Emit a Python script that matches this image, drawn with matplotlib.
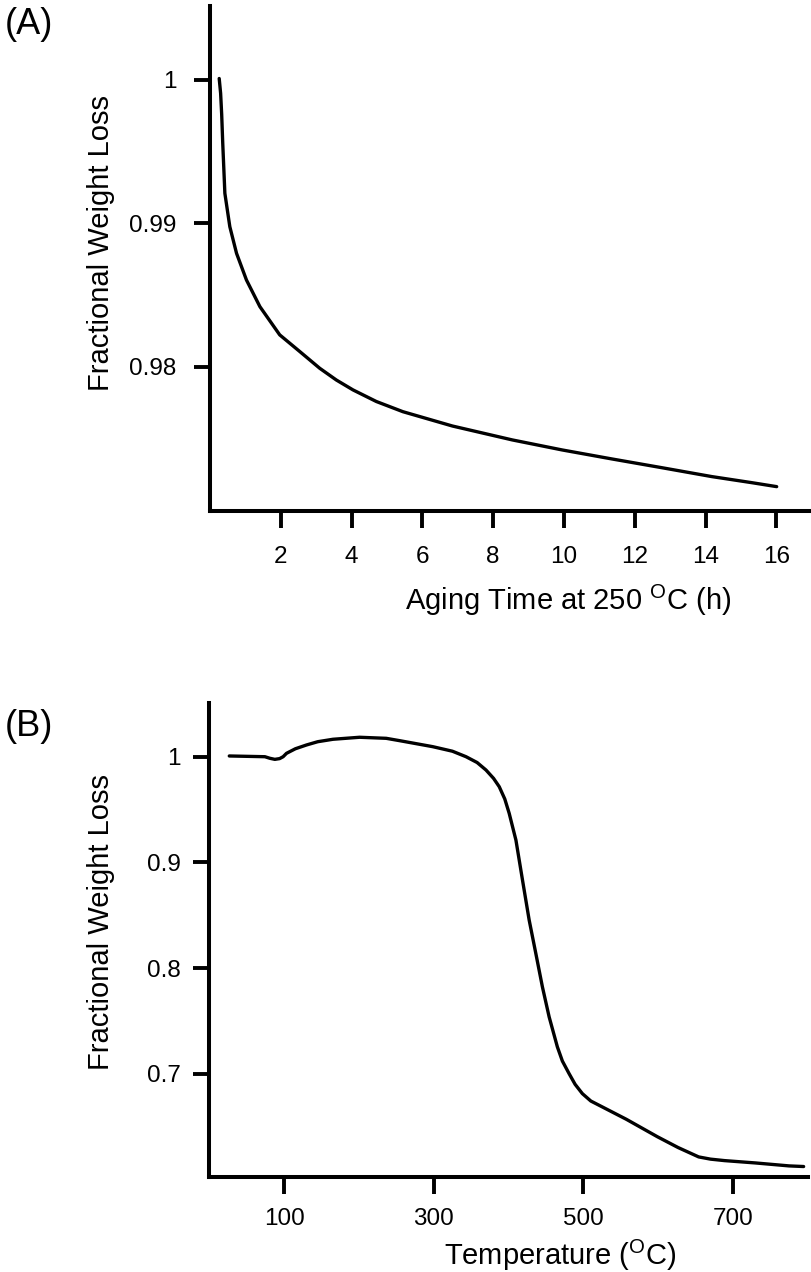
import matplotlib
matplotlib.use('Agg')
import matplotlib.pyplot as plt

FONT = 'Liberation Sans'
TICK_FONT_SIZE = 17.5
LABEL_FONT_SIZE = 21
PANEL_FONT_SIZE = 26
LINE_WIDTH = 2.4
SPINE_WIDTH = 2.9

plt.rcParams['font.family'] = [FONT, 'DejaVu Sans']
plt.rcParams['mathtext.fontset'] = 'custom'
plt.rcParams['mathtext.rm'] = FONT
plt.rcParams['xtick.labelsize'] = TICK_FONT_SIZE
plt.rcParams['ytick.labelsize'] = TICK_FONT_SIZE

# (A) isothermal aging at 250 C
aging_time = [0.26, 0.30, 0.33, 0.36, 0.42, 0.56, 0.75, 1.03, 1.41, 1.97,
              2.54, 3.10, 3.57, 4.04, 4.70, 5.45, 6.85, 8.54, 9.95, 11.36,
              12.77, 14.18, 15.30, 16.01]
aging_weight = [1.0001, 0.99907, 0.99760, 0.99558, 0.99209, 0.98976, 0.98790,
                0.98604, 0.98418, 0.98221, 0.98104, 0.97988, 0.97906,
                0.97837, 0.97756, 0.97685, 0.97585, 0.97488, 0.97418,
                0.97355, 0.97294, 0.97232, 0.97190, 0.97162]
a_xticks = [2, 4, 6, 8, 10, 12, 14, 16]
a_yticks = [0.98, 0.99, 1.0]
a_yticklabels = ['0.98', '0.99', '1']

# (B) temperature ramp
temperature = [26.7, 74.3, 81, 87.6, 94, 98.7, 103.2, 115, 129.9, 145, 165.3,
               200.9, 236.5, 254.3, 298.7, 325, 343.2, 358, 369.9, 380,
               387.6, 395, 400.9, 409.9, 418.7, 427.6, 436.5, 445.3, 454.3,
               465.3, 472, 480.9, 489, 498.7, 510, 521, 557.5, 599, 626.6,
               654.2, 670, 688.8, 730, 775, 794.5]
temp_weight = [1.0007, 1.0, 0.9985, 0.9975, 0.9982, 1.0, 1.0032, 1.0075,
               1.0111, 1.0142, 1.0165, 1.0184, 1.0174, 1.0152, 1.0095, 1.0052,
               1.0, 0.9945, 0.9874, 0.9795, 0.9716, 0.9600, 0.9464, 0.9211,
               0.8832, 0.8454, 0.8138, 0.7822, 0.7538, 0.7254, 0.7120, 0.7002,
               0.6900, 0.6812, 0.6742, 0.6702, 0.6569, 0.6404, 0.6302, 0.6213,
               0.6192, 0.6178, 0.6156, 0.6128, 0.6122]
b_xticks = [100, 300, 500, 700]
b_yticks = [0.7, 0.8, 0.9, 1.0]
b_yticklabels = ['0.7', '0.8', '0.9', '1']


def style_axes(ax, xpad, ypad):
  for side in ['top', 'right']:
    ax.spines[side].set_visible(False)
  for side in ['left', 'bottom']:
    ax.spines[side].set_linewidth(SPINE_WIDTH)
    ax.spines[side].set_capstyle('projecting')
  ax.tick_params(axis='x', direction='out', length=12, width=2.8, pad=xpad)
  ax.tick_params(axis='y', direction='out', length=11.5, width=2.8, pad=ypad)


fig = plt.figure(figsize=(8.11, 12.72), dpi=100)

ax1 = fig.add_axes([0.25894, 0.59827, 0.73933, 0.39701])
ax1.plot(aging_time, aging_weight, color='black', linewidth=LINE_WIDTH,
         solid_capstyle='round', solid_joinstyle='round')
ax1.set_xlim(0, 16.94)
ax1.set_ylim(0.96992, 1.00516)
ax1.set_xticks(a_xticks)
ax1.set_yticks(a_yticks)
ax1.set_yticklabels(a_yticklabels)
style_axes(ax1, 13.5, 12.5)
ax1.set_xlabel('Aging Time at 250 $^{\\mathrm{O}}$C (h)', fontsize=LABEL_FONT_SIZE, va='center')
ax1.xaxis.set_label_coords(0.597, (511 - 600.5) / 505)
ax1.set_ylabel('Fractional Weight Loss', fontsize=LABEL_FONT_SIZE, va='center')
ax1.yaxis.set_label_coords((101 - 210) / 599.6, (511 - 243) / 505)

ax2 = fig.add_axes([0.25808, 0.07469, 0.7379, 0.37295])
ax2.plot(temperature, temp_weight, color='black', linewidth=LINE_WIDTH,
         solid_capstyle='round', solid_joinstyle='round')
ax2.set_xlim(0, 800)
ax2.set_ylim(0.6023, 1.0512)
ax2.set_xticks(b_xticks)
ax2.set_yticks(b_yticks)
ax2.set_yticklabels(b_yticklabels)
style_axes(ax2, 10, 9)
ax2.set_xlabel('Temperature ($^{\\mathrm{O}}$C)', fontsize=LABEL_FONT_SIZE, va='center')
ax2.xaxis.set_label_coords(0.587, (1177 - 1255) / 474.4)
ax2.set_ylabel('Fractional Weight Loss', fontsize=LABEL_FONT_SIZE, va='center')
ax2.yaxis.set_label_coords((101 - 209.3) / 598.4, (1177 - 922) / 474.4)

fig.text(5 / 811, 1 - 25 / 1272, '(A)', fontsize=PANEL_FONT_SIZE, ha='left', va='center')
fig.text(5 / 811, 1 - 726 / 1272, '(B)', fontsize=PANEL_FONT_SIZE, ha='left', va='center')

fig.savefig('out.png', dpi=100)
